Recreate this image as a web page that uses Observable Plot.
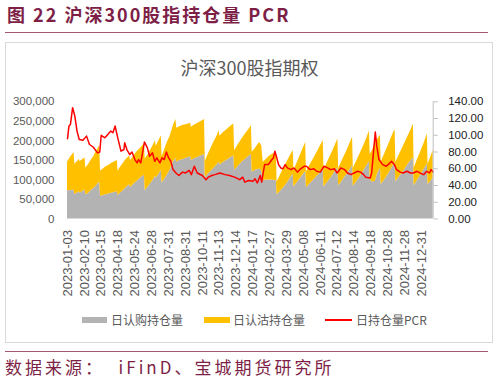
<!DOCTYPE html>
<html><head><meta charset="utf-8">
<script src="https://cdn.jsdelivr.net/npm/d3@7"></script>
<script src="https://cdn.jsdelivr.net/npm/@observablehq/plot@0.6"></script>
<style>
html,body{margin:0;padding:0;background:#fff}
body{width:499px;height:382px;overflow:hidden;position:relative;font-family:"Noto Sans CJK SC",sans-serif}
.abs{position:absolute;white-space:pre}
</style></head><body>
<div class="abs" style="left:7px;top:5px;font-size:18px;line-height:18px;font-weight:bold;color:#7d1f46;letter-spacing:2px">图 22 沪深300股指持仓量 PCR</div>
<div class="abs" style="left:5px;top:32px;width:483px;height:1px;background:#9e5a75"></div>
<div class="abs" style="left:5px;top:42px;width:488px;height:301px;border:1px solid #d9d9d9;box-sizing:border-box"></div>
<div class="abs" style="left:0;top:58px;width:499px;text-align:center;font-size:18px;line-height:18px;color:#595959">沪深300股指期权</div>
<div id="chart"></div>
<div class="abs" style="left:82px;top:317px;width:25px;height:6px;background:#b3b3b3"></div>
<div class="abs" style="left:111px;top:313px;font-size:12px;line-height:14px;color:#595959">日认购持仓量</div>
<div class="abs" style="left:204px;top:317px;width:26px;height:6px;background:#ffc000"></div>
<div class="abs" style="left:233px;top:313px;font-size:12px;line-height:14px;color:#595959">日认沽持仓量</div>
<div class="abs" style="left:325px;top:319px;width:27px;height:2px;background:#ff0000"></div>
<div class="abs" style="left:356px;top:313px;font-size:12px;line-height:14px;color:#595959">日持仓量PCR</div>
<div class="abs" style="left:5px;top:351px;width:483px;height:1px;background:#9e5a75"></div>
<div class="abs" style="left:5px;top:358px;font-size:17px;line-height:18px;color:#7d1f46;letter-spacing:3px">数据来源：  iFinD、宝城期货研究所</div>
<script>
// trading-day index of each vertex (0 = 2023-01-03)
const dayIdx = [0,4,7,9, 10,14,16,17,20,24, 25,29,32,36,38,41,44, 45,49,52,56,60,64,68, 69,72,76,80,85, 86,90,94,98,102,105,
  106,110,114,118,120,121,124,128, 129,132,136,140,143,145,148, 149,153,158,163,168, 169,173,178,183,187,
  188,192,196,200,204,207, 208,212,217,222,227, 228,233,238,243,247,251, 252,256,262,265, 267,271,275,280,285,
  286,290,295,300,304,308, 309,313,317,321,325, 326,331,336,341,345,349, 350,354,358,362,366,369,
  370,374,378,382,386,389, 390,395,400,404,408,412, 413,416,420,423,427, 428,432,437,442,447,
  448,453,458,463,468,472, 473,477,482,487,491, 492,495,499];
// 日认购持仓量
const callOI = [73000,72000,74000,73000, 63000,67000,70000,66000,70000,74000, 62000,66000,72000,78000,82000,88000,95000,
  58000,60000,62000,64000,66000,68000,70000, 60000,66000,72000,80000,88000, 80000,88000,95000,102000,108000,112000,
  72000,82000,92000,102000,110000,104000,112000,125000, 92000,100000,112000,125000,140000,148000,155000,
  145000,150000,152000,156000,160000, 150000,154000,158000,162000,165000, 106000,115000,122000,130000,138000,146000,
  138000,144000,150000,156000,162000, 125000,135000,145000,153000,160000,165000, 120000,124000,128000,124000,
  98000,100000,100000,100000,98000, 62000,70000,80000,92000,104000,115000, 82000,92000,102000,112000,122000,
  80000,90000,100000,110000,118000,126000, 82000,92000,102000,112000,124000,132000, 85000,95000,106000,116000,128000,138000,
  84000,96000,110000,122000,135000,148000, 100000,95000,96000,115000,130000, 88000,98000,112000,128000,145000,
  95000,108000,120000,135000,148000,157000, 85000,97000,112000,128000,142000, 88000,95000,105000];
// 日认沽持仓量
const putOI = [72000,86000,91000,97000, 77000,81000,83000,81000,81000,82000, 68000,74000,78000,82000,86000,90000,93000,
  65000,68000,71000,73000,76000,78000,80000, 62000,66000,70000,72000,74000, 70000,72000,75000,76000,78000,80000,
  81000,83000,86000,90000,90000,82000,86000,88000, 68000,75000,83000,87000,90000,94000,100000,
  87000,86000,88000,86000,85000, 85000,86000,87000,88000,90000, 42000,50000,60000,68000,74000,80000,
  74000,76000,78000,80000,81000, 50000,55000,60000,65000,68000,74000, 51000,56000,68000,64000,
  47000,52000,60000,66000,73000, 33000,40000,50000,56000,58000,61000, 42000,50000,58000,66000,74000,
  40000,48000,55000,62000,69000,75000, 43000,50000,56000,62000,68000,73000, 45000,51000,56000,62000,68000,71000,
  46000,54000,60000,65000,70000,77000, 65000,80000,99000,88000,85000, 57000,65000,73000,80000,85000,
  50000,57000,65000,70000,77000,86000, 45000,53000,60000,68000,76000, 52000,60000,71000];
// 日持仓量PCR
const pcrIdx = [0,2,4,7,10,13,16,21,26,30,35,41,44,46,51,55,59,62,65,68,73,77,78,81,85,88,92,95,97,100,
  105,109,112,116,119,122,126,129,132,135,138,141,144,148,152,157,161,166,169,173,177,184,189,192,197,201,
  208,215,221,228,235,239,242,247,253,256,259,263,265,267,269,274,279,281,283,285,288,291,294,297,300,305,
  309,314,318,323,326,331,336,340,345,350,355,359,364,368,373,378,382,387,391,396,400,404,407,413,415,
  420,422,425,430,435,440,442,446,449,454,458,463,468,472,477,481,486,490,494,496,499];
const pcrVal = [96,111,113,133,123,105,95,94,99,89,86,79,80,100,97,101,105,103,111,99,81,83,91,83,77,80,71,67,71,67,
  92,85,75,79,69,73,67,73,71,80,73,69,59,55,52,56,55,58,53,63,55,52,47,50,52,53,
  55,53,52,50,47,50,44,46,45,48,43,52,44,55,65,65,71,73,81,75,65,61,60,65,61,59,
  61,56,60,63,63,59,60,57,56,63,61,59,60,55,61,59,55,53,55,57,56,53,50,49,55,
  104,87,71,65,63,67,69,65,59,56,55,57,55,55,57,55,53,57,55,59,56];
// x-axis categories
const tickIdx = [0,23,46,69,92,115,138,161,184,207,230,253,276,299,322,345,368,391,414,437,460,483];
const tickLabels = ["2023-01-03","2023-02-10","2023-03-15","2023-04-18","2023-05-24","2023-06-28","2023-07-31",
  "2023-08-31","2023-10-11","2023-11-13","2023-12-14","2024-01-17","2024-02-27","2024-03-29","2024-05-08",
  "2024-06-11","2024-07-12","2024-08-14","2024-09-18","2024-10-28","2024-11-28","2024-12-31"];
const leftTicks = [0,50000,100000,150000,200000,250000,300000];
const rightTicks = [0,20,40,60,80,100,120,140];

const yMax = 300000, pcrMax = 140, k = yMax / pcrMax;
const rows = [
  ...dayIdx.map((d, i) => ({d, v: callOI[i], s: "call"})),
  ...dayIdx.map((d, i) => ({d, v: putOI[i], s: "put"}))
];
const pcr = pcrIdx.map((d, i) => ({d, v: pcrVal[i]}));

const chart = Plot.plot({
  width: 499, height: 382,
  marginLeft: 67, marginRight: 66.3, marginTop: 101.3, marginBottom: 163.5,
  style: {fontFamily: "Liberation Sans, Arial, sans-serif", background: "none", position: "absolute", left: "0px", top: "0px", overflow: "visible"},
  x: {type: "linear", domain: [0, 499]},
  y: {domain: [0, yMax]},
  color: {domain: ["call", "put"], range: ["#b3b3b3", "#ffc000"]},
  marks: [
    Plot.areaY(rows, {x: "d", y: "v", fill: "s", order: null}),
    Plot.lineY(pcr, {x: "d", y: r => r.v * k, stroke: "#ff0000", strokeWidth: 1.5}),
    Plot.ruleX([499], {stroke: "#bfbfbf", strokeWidth: 1}),
    Plot.axisY(leftTicks, {anchor: "left", tickSize: 0, tickPadding: 13, tickFormat: d3.format(","), fontSize: 11.5, fill: "#595959", label: null}),
    Plot.axisY(rightTicks.map(v => v * k), {anchor: "right", tickSize: 4, tickPadding: 11, stroke: "#bfbfbf",
      tickFormat: v => (v / k).toFixed(2), fontSize: 11.5, fill: "#222", label: null}),
    Plot.axisX(tickIdx, {anchor: "bottom", tickSize: 0, tickPadding: 11, tickRotate: -90,
      tickFormat: d => tickLabels[tickIdx.indexOf(d)], fontSize: 13, fill: "#595959", label: null})
  ]
});
document.getElementById("chart").appendChild(chart);
</script>
</body></html>
